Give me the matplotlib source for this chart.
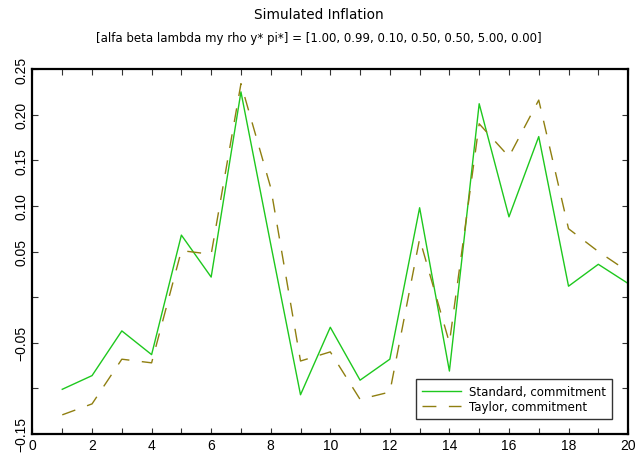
import matplotlib
matplotlib.use("Agg")
import matplotlib.pyplot as plt
from matplotlib.ticker import FixedLocator, MultipleLocator

periods = list(range(1, 21))
standard_commitment = [-0.101, -0.086, -0.037, -0.063, 0.068, 0.022, 0.225, 0.058,
                       -0.107, -0.033, -0.091, -0.068, 0.098, -0.081, 0.212, 0.088,
                       0.176, 0.012, 0.036, 0.015]
taylor_commitment = [-0.129, -0.117, -0.068, -0.072, 0.051, 0.047, 0.234, 0.120,
                     -0.070, -0.060, -0.112, -0.104, 0.064, -0.050, 0.190, 0.154,
                     0.216, 0.075, 0.050, 0.028]
y_ticks = [-0.15, -0.10, -0.05, 0.0, 0.05, 0.10, 0.15, 0.20, 0.25]
y_tick_labels = ["\u22120.15", "", "\u22120.05", "", "0.05", "0.10", "0.15", "0.20", "0.25"]
x_ticks = list(range(0, 21, 2))

fig = plt.figure(figsize=(6.37, 4.64), dpi=100)
ax = fig.add_axes([0.051, 0.0625, 0.935, 0.7865])

ax.plot(periods, standard_commitment, color="#1ec81e", lw=1.0,
        label="Standard, commitment")
ax.plot(periods, taylor_commitment, color="#8f7f10", lw=1.0,
        dashes=(10, 9), label="Taylor, commitment")

ax.set_xlim(0, 20)
ax.set_ylim(-0.15, 0.25)
ax.xaxis.set_major_locator(FixedLocator(x_ticks))
ax.xaxis.set_minor_locator(MultipleLocator(1))
ax.set_yticks(y_ticks)
ax.set_yticklabels(y_tick_labels, rotation=90, va="center")

for lab in ax.get_xticklabels() + ax.get_yticklabels():
    lab.set_fontfamily("Liberation Sans")
    lab.set_fontsize(10)

ax.tick_params(axis="both", which="both", direction="in", top=True, right=True,
               width=0.8, color="#333333")
ax.tick_params(axis="both", which="major", length=4, pad=3)
ax.tick_params(axis="both", which="minor", length=4)
for s in ax.spines.values():
    s.set_linewidth(1.6)
    s.set_color("black")

fig.text(0.5, 0.967, "Simulated Inflation", ha="center", va="center",
         fontsize=9.8, family="DejaVu Sans")
fig.text(0.5, 0.916,
         "[alfa beta lambda my rho y* pi*] = [1.00, 0.99, 0.10, 0.50, 0.50, 5.00, 0.00]",
         ha="center", va="center", fontsize=8.5, family="DejaVu Sans")

leg = ax.legend(loc="lower right", bbox_to_anchor=(0.973, 0.041), borderaxespad=0,
                fancybox=False, framealpha=1, edgecolor="#333333",
                prop=dict(family="DejaVu Sans", size=8.5),
                handlelength=3.3, handletextpad=0.7, borderpad=0.5, labelspacing=0.2)
leg.get_frame().set_linewidth(1.0)

fig.savefig("out.png", dpi=100)
